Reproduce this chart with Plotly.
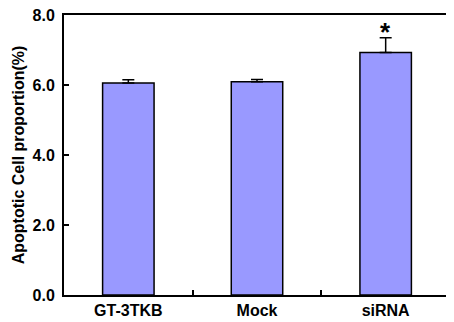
import plotly.graph_objects as go

categories = ["GT-3TKB", "Mock", "siRNA"]
values = [6.06, 6.09, 6.93]
errors = [0.09, 0.07, 0.42]
y_ticks = [0, 2, 4, 6, 8]
y_tick_labels = ["0.0", "2.0", "4.0", "6.0", "8.0"]

font_family = "Liberation Sans, Arial, sans-serif"

fig = go.Figure()
fig.add_trace(go.Bar(
    x=categories, y=values,
    width=0.4,
    marker=dict(color="#9999FF", line=dict(color="black", width=1.5)),
    error_y=dict(type="data", array=errors, arrayminus=[0, 0, 0], symmetric=False,
                 color="black", thickness=1.5, width=6),
))
fig.add_annotation(x="siRNA", y=values[2] + errors[2], text="<b>*</b>", showarrow=False,
                   yanchor="bottom", yshift=-11, font=dict(size=26, color="black", family=font_family))

fig.update_layout(
    width=446, height=314,
    margin=dict(l=56, r=4, t=7, b=27),
    plot_bgcolor="white", paper_bgcolor="white",
    showlegend=False,
    font=dict(family=font_family, color="black"),
)
fig.update_xaxes(
    type="category", range=[-0.5, 2.5], automargin=False,
    tickvals=categories, ticktext=["<b>" + c + "</b>" for c in categories],
    showline=True, linecolor="black", linewidth=2, mirror=True,
    ticks="inside", tickson="boundaries", ticklen=5, tickwidth=1.5, tickcolor="black",
    tickfont=dict(size=16, family=font_family),
    ticklabeloverflow="allow",
    showgrid=False,
)
fig.update_yaxes(
    range=[0, 8], automargin=False,
    tickvals=y_ticks, ticktext=["<b>" + t + "</b>" for t in y_tick_labels],
    showline=True, linecolor="black", linewidth=2, mirror=True,
    ticks="inside", ticklen=5, tickwidth=1.5, tickcolor="black",
    tickfont=dict(size=16, family=font_family),
    ticklabelstandoff=4,
    ticklabeloverflow="allow",
    showgrid=False, zeroline=False,
    title=dict(text="<b>Apoptotic Cell proportion(%)</b>", standoff=4,
               font=dict(size=16, family=font_family)),
)

fig.write_html("out.html")
